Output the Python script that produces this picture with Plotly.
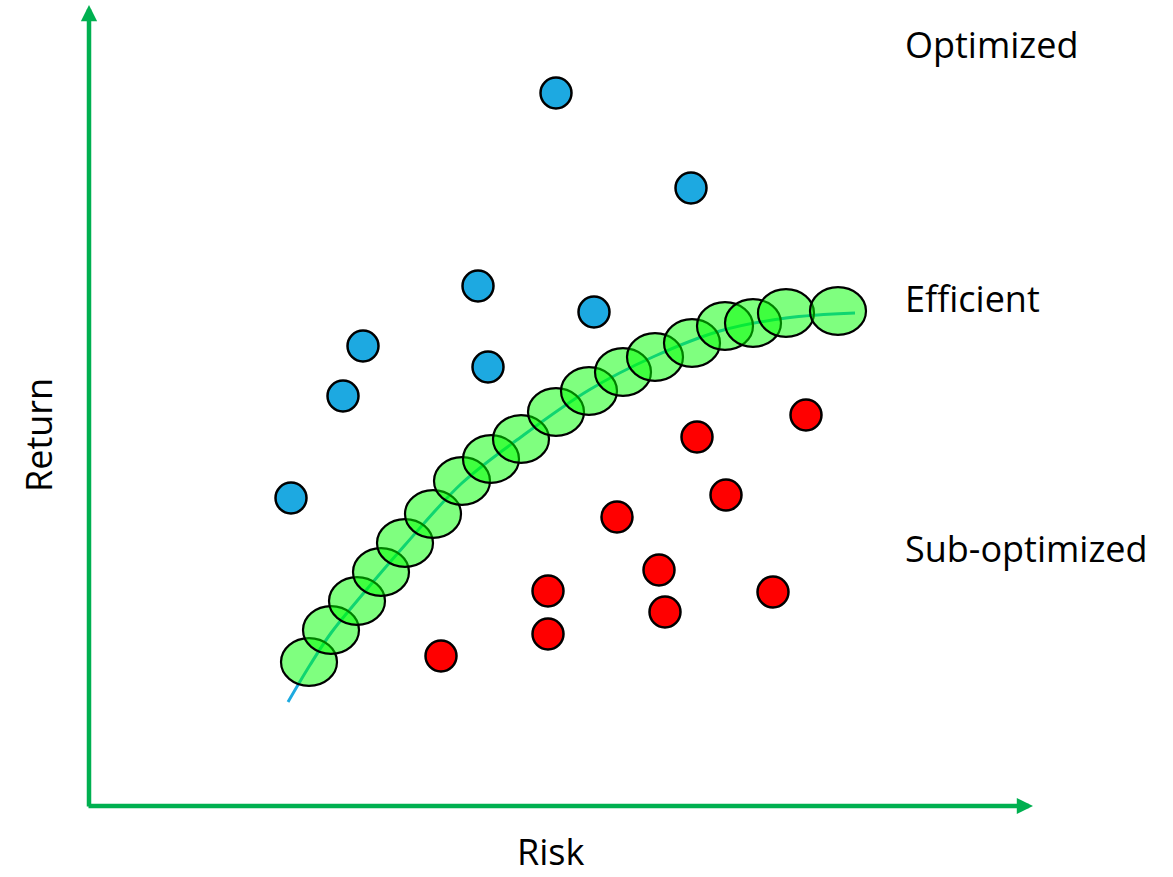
import plotly.graph_objects as go

# Data (chart units: origin at the axes corner)
optimized_risk = [467, 602, 389, 505, 274, 399, 254, 202]
optimized_return = [713, 618, 520, 494, 460, 439, 410, 308]

suboptimal_risk = [717, 608, 637, 528, 570, 459, 684, 576, 459, 352]
suboptimal_return = [391, 369, 311, 289, 236, 215, 214, 194, 172, 150]

efficient_risk = [220, 242, 268, 292, 316, 344, 373, 402, 432, 467, 500, 534, 566, 603, 636, 664, 697, 749]
efficient_return = [144, 176, 205, 234, 263, 292, 325, 347, 367, 394, 415, 434, 449, 463, 480, 483, 493, 495]

frontier_risk = [199, 221, 242, 268, 316, 373, 432, 500, 566, 631, 697, 766]
frontier_return = [104, 141, 173, 205, 261, 323, 369, 416, 450, 475, 488, 493]

labels = ["Optimized", "Efficient", "Sub-optimized"]
label_return = [762, 508, 258]
label_risk = 814

axis_x_end = 944
axis_y_end = 801

GREEN = "#00B050"
FONT = "Open Sans"

fig = go.Figure()

fig.add_trace(go.Scatter(
    x=frontier_risk, y=frontier_return, mode="lines", line_shape="spline",
    line=dict(color="#1EAAE0", width=3), hoverinfo="skip", showlegend=False))

fig.add_trace(go.Scatter(
    x=optimized_risk, y=optimized_return, mode="markers",
    marker=dict(size=31, color="#1DA9E1", line=dict(color="black", width=2.5)),
    showlegend=False))

fig.add_trace(go.Scatter(
    x=suboptimal_risk, y=suboptimal_return, mode="markers",
    marker=dict(size=31, color="#FF0000", line=dict(color="black", width=2.5)),
    showlegend=False))

shapes = []
for rx, ry in zip(efficient_risk, efficient_return):
    shapes.append(dict(
        type="circle", xref="x", yref="y",
        x0=rx - 28, x1=rx + 28, y0=ry - 23.8, y1=ry + 23.8,
        fillcolor="rgba(0,255,0,0.5)", line=dict(color="black", width=2.2),
        layer="above"))

annotations = [
    dict(x=0, y=axis_y_end, ax=0, ay=-2, xref="x", yref="y", axref="x", ayref="y",
         text="", showarrow=True, arrowhead=2, arrowsize=0.72, arrowwidth=4.5,
         arrowcolor=GREEN),
    dict(x=axis_x_end, y=0, ax=-2, ay=0, xref="x", yref="y", axref="x", ayref="y",
         text="", showarrow=True, arrowhead=2, arrowsize=0.72, arrowwidth=4.5,
         arrowcolor=GREEN),
]
for lab, ly in zip(labels, label_return):
    annotations.append(dict(x=label_risk, y=ly, xref="x", yref="y", text=lab,
                            showarrow=False, xanchor="left", yanchor="middle",
                            font=dict(family=FONT, size=36, color="black")))
annotations.append(dict(x=461, y=-71, xref="x", yref="y", text="Risk", showarrow=False,
                        xanchor="center", yanchor="bottom", borderpad=0,
                        font=dict(family=FONT, size=36, color="black")))
annotations.append(dict(x=-51, y=371, xref="x", yref="y", text="Return", showarrow=False,
                        xanchor="center", yanchor="middle", textangle=-90,
                        font=dict(family=FONT, size=36, color="black")))

fig.update_layout(
    width=1173, height=877, autosize=False,
    margin=dict(l=0, r=0, t=0, b=0),
    paper_bgcolor="white", plot_bgcolor="white",
    xaxis=dict(range=[-89, 1084], visible=False, fixedrange=True),
    yaxis=dict(range=[-71, 806], visible=False, fixedrange=True),
    shapes=shapes, annotations=annotations, showlegend=False,
)

fig.write_html("out.html", config={"displayModeBar": False},
               post_script="document.body.style.margin='0';document.body.style.overflow='hidden';")
